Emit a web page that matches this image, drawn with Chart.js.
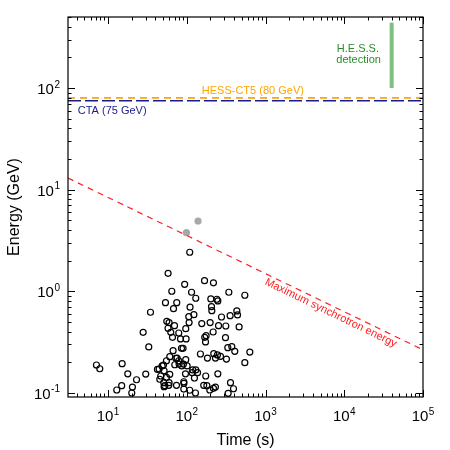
<!DOCTYPE html>
<html>
<head>
<meta charset="utf-8">
<script src="https://cdn.jsdelivr.net/npm/chart.js@4.4.0/dist/chart.umd.min.js"></script>
<style>
  html, body { margin: 0; padding: 0; background: #fff; }
  #wrap { width: 450px; height: 450px; }
</style>
</head>
<body>
<div id="wrap"><canvas id="chart" width="450" height="450"></canvas></div>
<script>
// photon arrival times (s) and energies (GeV), open circles
const photonTimes = [
  109, 57.9, 94, 168, 218, 64.5, 115, 342, 53.6, 74.6,
  130, 110, 67.8, 202, 241, 248, 546, 206, 208, 34.6,
  106, 123, 107, 55.7, 59.6, 69.8, 57.8, 97, 155, 198,
  276, 355, 432, 441, 313, 462, 253, 27.9, 79.1, 62.6,
  176, 169, 216, 310, 65.8, 83.2, 98, 173, 32.9, 85.6,
  89.7, 332, 373, 407, 632, 67, 149, 220, 245, 268,
  183, 231, 319, 546, 60.8, 72.5, 75.3, 79.1, 70.4, 79.8,
  55.2, 48.6, 50.6, 44.5, 42.4, 51.5, 90.8, 97, 101, 86.4,
  119, 130, 117, 137, 96.3, 125, 174, 248, 46.7, 60.8,
  55.2, 51, 52.5, 59.6, 59.1, 51.5, 74, 91.6, 92, 91.6,
  109, 129, 164, 180, 218, 231, 196, 359, 392, 335,
  7.12, 7.85, 15.1, 17.8, 23, 30.1, 14.9, 12.9, 20.4, 20,
  45.4
];
const photonEnergies = [
  2.42, 1.50, 1.17, 1.27, 1.21, 1.00, 0.977, 0.977, 0.772, 0.772,
  0.853, 0.696, 0.674, 0.840, 0.834, 0.802, 0.913, 0.705, 0.644, 0.621,
  0.562, 0.588, 0.491, 0.506, 0.491, 0.458, 0.432, 0.428, 0.480, 0.491,
  0.558, 0.575, 0.640, 0.584, 0.455, 0.445, 0.458, 0.394, 0.388, 0.394,
  0.365, 0.352, 0.397, 0.349, 0.352, 0.339, 0.339, 0.317, 0.283, 0.274,
  0.274, 0.278, 0.285, 0.256, 0.252, 0.260, 0.241, 0.243, 0.236, 0.229,
  0.220, 0.220, 0.215, 0.198, 0.227, 0.219, 0.220, 0.207, 0.189, 0.192,
  0.207, 0.184, 0.188, 0.1715, 0.170, 0.165, 0.192, 0.212, 0.184, 0.184,
  0.168, 0.168, 0.158, 0.158, 0.154, 0.140, 0.1465, 0.154, 0.1465, 0.152,
  0.142, 0.126, 0.1175, 0.126, 0.1186, 0.1148, 0.1186, 0.1286, 0.124, 0.109,
  0.106, 0.0996, 0.1186, 0.1175, 0.1107, 0.114, 0.1066, 0.126, 0.1097, 0.0989,
  0.188, 0.1727, 0.1935, 0.154, 0.1346, 0.153, 0.1175, 0.1066, 0.114, 0.0996,
  0.136
];
// the two grey filled photons
const greyTimes = [99, 139];
const greyEnergies = [3.77, 4.91];
// maximum synchrotron energy line
const synchTimes = [3.1, 100000];
const synchEnergies = [13.0, 0.265];
// instrument thresholds
const hessCt5Energy = 80;
const ctaEnergy = 75;
// H.E.S.S. detection bar
const hessDetTimes = [40000, 40000];
const hessDetEnergies = [100, 440];

const xMin = 3.1, xMax = 100000;
const yMin = 0.091, yMax = 500;
// tick labels: base 10 with exponent
const xTickValues = [10, 100, 1000, 10000, 100000];
const xTickExps = ['1', '2', '3', '4', '5'];
const yTickValues = [0.1, 1, 10, 100];
const yTickExps = ['-1', '0', '1', '2'];

const FONT = "'Liberation Sans', Arial, 'DejaVu Sans', sans-serif";

const notes = [
  { text: 'H.E.S.S.', t: 14900, e: 244, color: '#2b8a2b', align: 'center' },
  { text: 'detection', t: 15200, e: 190, color: '#2b8a2b', align: 'center' },
  { text: 'HESS-CT5 (80 GeV)', t: 690, e: 94, color: '#ffa500', align: 'center' },
  { text: 'CTA (75 GeV)', t: 4.12, e: 59.8, color: '#1c1c8c', align: 'left' },
  { text: 'Maximum synchrotron energy', t: 6760, e: 0.611, color: '#ff2020', align: 'center', along: true }
];

const toPoints = (xs, ys) => xs.map((x, i) => ({ x: x, y: ys[i] }));

function drawPower(ctx, exp, px, baseline, align) {
  ctx.font = '15px ' + FONT;
  const wBase = ctx.measureText('10').width;
  ctx.font = '10px ' + FONT;
  const wExp = ctx.measureText(exp).width + 0.5;
  const start = align === 'center' ? px - (wBase + wExp) / 2 : px - wBase - wExp;
  ctx.textAlign = 'left';
  ctx.textBaseline = 'alphabetic';
  ctx.font = '15px ' + FONT;
  ctx.fillText('10', start, baseline);
  ctx.font = '10px ' + FONT;
  ctx.fillText(exp, start + wBase + 0.5, baseline - 6.5);
}

const framePlugin = {
  id: 'frame',
  afterDatasetsDraw(chart) {
    const { ctx, chartArea: a, scales: { x, y } } = chart;
    ctx.save();
    ctx.strokeStyle = '#000';
    ctx.lineWidth = 1.2;
    ctx.strokeRect(a.left, a.top, a.right - a.left, a.bottom - a.top);

    ctx.lineWidth = 1;
    ctx.beginPath();
    for (let d = 0; d <= 5; d++) {
      for (let m = 1; m <= 9; m++) {
        const v = m * Math.pow(10, d);
        if (v < xMin || v > xMax) continue;
        const px = Math.round(x.getPixelForValue(v)) + 0.5;
        const len = m === 1 ? 7 : 3.5;
        ctx.moveTo(px, a.bottom); ctx.lineTo(px, a.bottom - len);
        ctx.moveTo(px, a.top); ctx.lineTo(px, a.top + len);
      }
    }
    for (let d = -2; d <= 2; d++) {
      for (let m = 1; m <= 9; m++) {
        const v = m * Math.pow(10, d);
        if (v < yMin || v > yMax) continue;
        const py = Math.round(y.getPixelForValue(v)) + 0.5;
        const len = m === 1 ? 7 : 3.5;
        ctx.moveTo(a.left, py); ctx.lineTo(a.left + len, py);
        ctx.moveTo(a.right, py); ctx.lineTo(a.right - len, py);
      }
    }
    ctx.stroke();

    // tick labels with raised exponents
    ctx.fillStyle = '#000';
    xTickValues.forEach((v, i) => {
      drawPower(ctx, xTickExps[i], x.getPixelForValue(v), a.bottom + 24, 'center');
    });
    yTickValues.forEach((v, i) => {
      drawPower(ctx, yTickExps[i], a.left - 8, y.getPixelForValue(v) + 6, 'right');
    });

    // line angle for the rotated label
    const sx0 = x.getPixelForValue(synchTimes[0]), sy0 = y.getPixelForValue(synchEnergies[0]);
    const sx1 = x.getPixelForValue(synchTimes[1]), sy1 = y.getPixelForValue(synchEnergies[1]);
    const angle = Math.atan2(sy1 - sy0, sx1 - sx0);

    ctx.font = '11px ' + FONT;
    ctx.textBaseline = 'middle';
    notes.forEach(n => {
      ctx.save();
      ctx.fillStyle = n.color;
      ctx.textAlign = n.align;
      ctx.translate(x.getPixelForValue(n.t), y.getPixelForValue(n.e));
      if (n.along) ctx.rotate(angle);
      ctx.fillText(n.text, 0, 0);
      ctx.restore();
    });
    ctx.restore();
  }
};

new Chart(document.getElementById('chart'), {
  type: 'scatter',
  data: {
    datasets: [
      {
        label: 'H.E.S.S. detection',
        type: 'line',
        data: toPoints(hessDetTimes, hessDetEnergies),
        borderColor: '#80bf80',
        borderWidth: 4,
        pointRadius: 0
      },
      {
        label: 'HESS-CT5',
        type: 'line',
        data: toPoints([xMin, xMax], [hessCt5Energy, hessCt5Energy]),
        borderColor: '#ffa500',
        borderWidth: 1.6,
        borderDash: [7, 5],
        pointRadius: 0
      },
      {
        label: 'CTA',
        type: 'line',
        data: toPoints([xMin, xMax], [ctaEnergy, ctaEnergy]),
        borderColor: '#1c1c8c',
        borderWidth: 1.4,
        borderDash: [13, 4],
        pointRadius: 0
      },
      {
        label: 'Maximum synchrotron energy',
        type: 'line',
        data: toPoints(synchTimes, synchEnergies),
        borderColor: '#ff2020',
        borderWidth: 1.2,
        borderDash: [6, 5],
        pointRadius: 0
      },
      {
        label: 'grey photons',
        data: toPoints(greyTimes, greyEnergies),
        pointRadius: 3.6,
        backgroundColor: '#a8a8a8',
        borderColor: '#a8a8a8',
        borderWidth: 0
      },
      {
        label: 'photons',
        data: toPoints(photonTimes, photonEnergies),
        pointRadius: 3,
        backgroundColor: 'rgba(0,0,0,0)',
        borderColor: '#000',
        borderWidth: 1.2
      }
    ]
  },
  options: {
    responsive: false,
    animation: false,
    devicePixelRatio: 1,
    layout: { padding: { top: 17, right: 27, left: 0, bottom: 0 } },
    plugins: { legend: { display: false }, tooltip: { enabled: false } },
    scales: {
      x: {
        type: 'logarithmic',
        min: xMin,
        max: xMax,
        grid: { display: false },
        border: { display: false },
        afterBuildTicks: s => { s.ticks = xTickValues.map(v => ({ value: v })); },
        afterFit: s => { s.height = 53; },
        ticks: { display: false },
        title: {
          display: true,
          text: 'Time (s)',
          color: '#000',
          font: { family: FONT, size: 16 },
          padding: { top: 0, bottom: 0 }
        }
      },
      y: {
        type: 'logarithmic',
        min: yMin,
        max: yMax,
        grid: { display: false },
        border: { display: false },
        afterBuildTicks: s => { s.ticks = yTickValues.map(v => ({ value: v })); },
        afterFit: s => { s.width = 68; },
        ticks: { display: false },
        title: {
          display: true,
          text: 'Energy (GeV)',
          color: '#000',
          font: { family: FONT, size: 16 },
          padding: { top: 5, bottom: 0 }
        }
      }
    }
  },
  plugins: [framePlugin]
});
</script>
</body>
</html>
